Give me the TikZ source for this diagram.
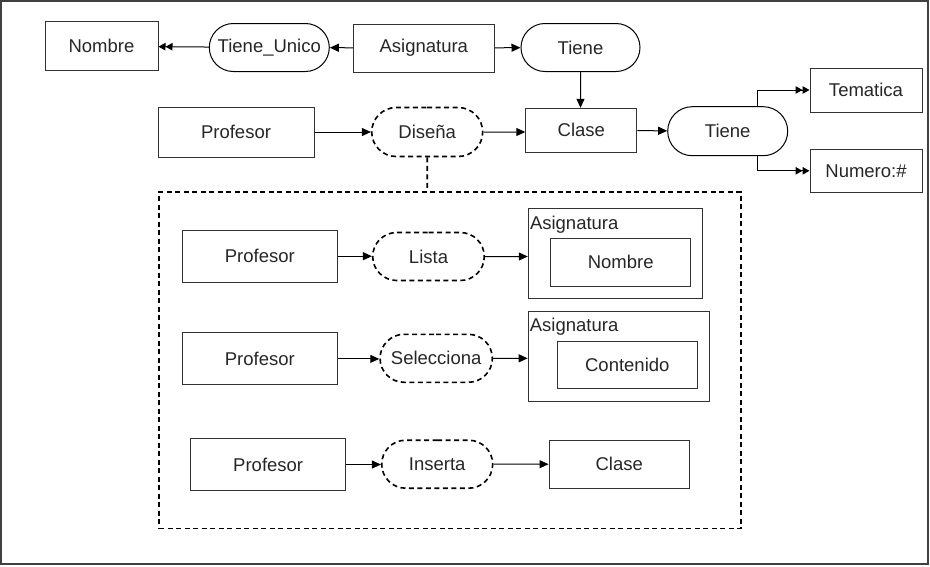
\documentclass[tikz,border=0pt]{standalone}
\usepackage{fontspec}
\setmainfont{Liberation Sans}
\usetikzlibrary{arrows.meta}
\usepackage{tikz}
\usetikzlibrary{shapes.misc, positioning}
\tikzstyle{entity} = [rectangle, minimum width=110pt, minimum height=48pt, inner sep=0pt, text centered, draw=black!80, line width=1pt]
\tikzstyle{relation} = [rounded rectangle, minimum width=120pt, minimum height=48pt, inner sep=0pt, text centered, draw=black, line width=1pt]
\tikzstyle{action} = [relation, line width=1.6pt, dash pattern=on 5pt off 3.5pt]
\tikzstyle{group} = [rectangle, inner sep=0pt, draw=black, line width=1.6pt, dash pattern=on 5pt off 3.5pt]
\tikzstyle{arrow} = [line width=1pt, -{Triangle[length=9pt,width=8pt]}]
\tikzstyle{darrow} = [line width=1pt, -{Triangle[length=7pt,width=7.5pt]Triangle[length=7pt,width=7.5pt]}]

\begin{document}
\begin{tikzpicture}[x=1pt, y=-1pt, font=\fontsize{18.5}{22}\selectfont, text=black!85]
        \useasboundingbox (0,0) rectangle (930,566);
        \draw [black!75, line width=1.5pt] (1,1) rectangle (928,564);
        \node (nombre) [entity, minimum width=113pt, minimum height=49pt] at (101.5,46.2) {Nombre};
        \node (tieneunico) [relation] at (269.3,47.5) {Tiene\_Unico};
        \node (asignatura) [entity, minimum width=141pt] at (423.8,48) {Asignatura};
        \node (tiene) [relation, minimum width=119pt] at (580.5,47.5) {Tiene};
        \node (profesor) [entity, minimum width=156pt, minimum height=50pt] at (236,132) {Profesor};
        \node (disena) [action, minimum width=111pt, minimum height=49pt] at (427.2,132) {Diseña};
        \node (clase) [entity, minimum width=111pt, minimum height=44pt] at (581.3,130.3) {Clase};
        \node (tiene2) [relation, minimum height=49pt] at (727.7,131.2) {Tiene};
        \node (tematica) [entity, minimum width=112pt, minimum height=44pt] at (866,90) {Tematica};
        \node (numero) [entity, minimum width=112pt, minimum height=43pt] at (866,170.8) {Numero:\#};
        \node (grupo) [group, minimum width=581.7pt, minimum height=336.6pt] at (449.85,360) {};
        \node (prof1) [entity, minimum width=155pt, minimum height=52pt] at (259.8,256.2) {Profesor};
        \node (lista) [action, minimum width=111.6pt] at (428.5,256.5) {Lista};
        \node (asig1) [entity, minimum width=174.4pt, minimum height=90pt] at (615.5,253.3) {};
        \node (asig1lbl) [anchor=north west, inner sep=0pt] at ([xshift=2pt,yshift=-8pt]asig1.north west) {Asignatura};
        \node (nombre2) [entity, minimum width=140pt, minimum height=47.7pt] at (620.7,262.2) {Nombre};
        \node (prof2) [entity, minimum width=155pt, minimum height=52pt] at (259.8,358.9) {Profesor};
        \node (selecciona) [action, minimum width=112.3pt] at (436.2,358.3) {Selecciona};
        \node (asig2) [entity, minimum width=181pt, minimum height=90pt] at (618.7,356.7) {};
        \node (asig2lbl) [anchor=north west, inner sep=0pt] at ([xshift=2pt,yshift=-7pt]asig2.north west) {Asignatura};
        \node (contenido) [entity, minimum width=140pt, minimum height=47.3pt] at (627.3,365.3) {Contenido};
        \node (prof3) [entity, minimum width=155pt, minimum height=52.4pt] at (268.2,464.5) {Profesor};
        \node (inserta) [action, minimum width=111pt] at (437.2,464.2) {Inserta};
        \node (clase2) [entity, minimum width=140.3pt] at (619.2,464.2) {Clase};
        \draw [darrow] (tieneunico) -- (nombre);
        \draw [arrow] (asignatura) -- (tieneunico);
        \draw [arrow] (asignatura) -- (tiene);
        \draw [arrow] (tiene) -- (tiene |- clase.north);
        \draw [arrow] (profesor) -- (disena);
        \draw [arrow] (disena) -- (disena -| clase.west);
        \draw [arrow] (clase) -- (tiene2);
        \draw [darrow] ([xshift=29.6pt]tiene2.north) |- (tematica);
        \draw [darrow] ([xshift=29.6pt]tiene2.south) |- (numero);
        \draw [line width=1.6pt, dash pattern=on 5pt off 3.5pt] (disena) -- (disena |- grupo.north);
        \draw [arrow] (prof1) -- (prof1 -| lista.west);
        \draw [arrow] (lista) -- (lista -| asig1.west);
        \draw [arrow] (prof2) -- (prof2 -| selecciona.west);
        \draw [arrow] (selecciona) -- (selecciona -| asig2.west);
        \draw [arrow] (prof3) -- (prof3 -| inserta.west);
        \draw [arrow] (inserta) -- (inserta -| clase2.west);
    \end{tikzpicture}
\end{document}
